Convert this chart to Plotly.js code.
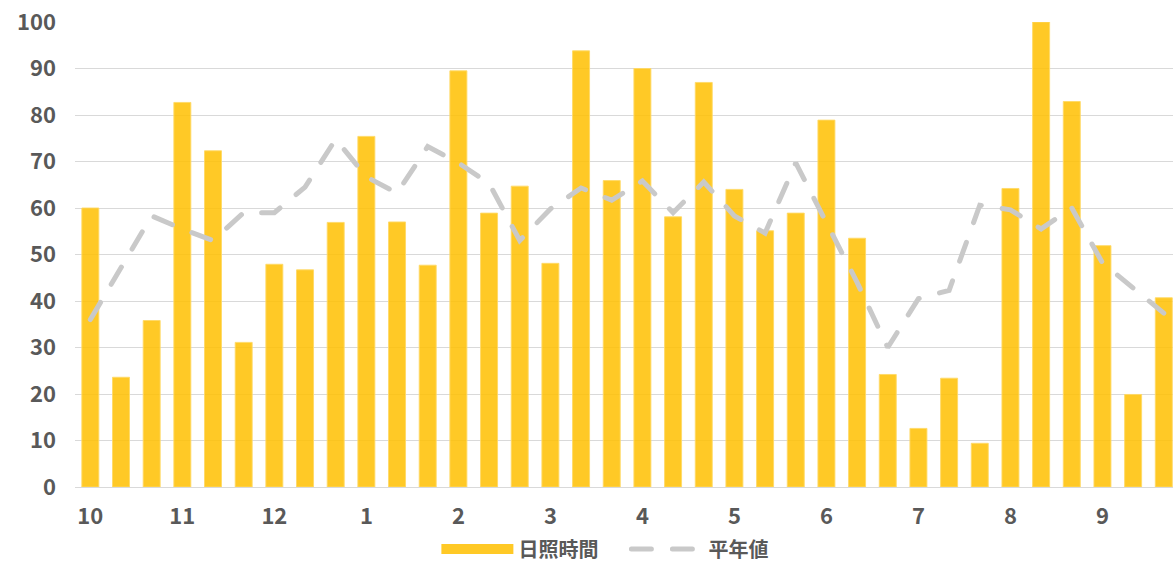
<!DOCTYPE html>
<html>
<head>
<meta charset="utf-8">
<script src="https://cdn.plot.ly/plotly-3.0.1.min.js"></script>
<style>
html, body { margin: 0; padding: 0; background: #fff; }
#chart { width: 1173px; height: 563px; }
.scatterlayer .js-line { stroke-linecap: round; }
.legend .traces:last-child .legendlines path { stroke-linecap: round; }
</style>
</head>
<body>
<div id="chart"></div>
<script>
// months (each split into three ten-day periods: 上旬, 中旬, 下旬)
const months = ['10','11','12','1','2','3','4','5','6','7','8','9'];
const periods = ['上旬','中旬','下旬'];

// 日照時間 (hours) per ten-day period
const sunshine = [
  60.0, 23.6, 35.8,
  82.7, 72.3, 31.1,
  47.9, 46.7, 56.9,
  75.4, 57.0, 47.7,
  89.5, 58.9, 64.7,
  48.1, 93.8, 65.9,
  90.0, 58.1, 87.0,
  64.0, 55.1, 58.9,
  78.9, 53.5, 24.2,
  12.6, 23.4, 9.4,
  64.2, 100.0, 82.9,
  51.9, 19.9, 40.7
];

// 平年値 (normal) per ten-day period
const normal = [
  36.0, 47.0, 58.3,
  55.5, 53.0, 59.0,
  59.0, 64.5, 74.8,
  66.7, 63.2, 73.2,
  69.7, 65.3, 53.0,
  59.8, 64.3, 61.7,
  65.8, 59.0, 65.6,
  58.3, 54.6, 69.7,
  57.0, 44.0, 30.0,
  40.5, 42.3, 60.6,
  59.6, 55.5, 60.0,
  48.2, 42.8, 37.4
];

const categories = [];
months.forEach(m => periods.forEach(p => categories.push(m + '月' + p)));
const tickVals = months.map(m => m + '月' + periods[0]);

const gold = 'rgba(255,192,0,0.85)';
const gray = 'rgb(201,201,201)';
const textColor = '#595959';
const font = '"Noto Sans CJK JP", "Noto Sans", sans-serif';

const traces = [
  {
    type: 'bar', x: categories, y: sunshine, name: '日照時間',
    marker: { color: gold, line: { color: 'rgba(255,217,102,0.9)', width: 1 } },
    showlegend: false, hoverinfo: 'x+y'
  },
  {
    type: 'scatter', mode: 'lines', x: categories, y: normal, name: '平年値',
    line: { color: gray, width: 5, dash: '20px,21px' },
    showlegend: false
  },
  // legend entries
  {
    type: 'scatter', mode: 'lines', x: [null], y: [null], name: '日照時間',
    line: { color: gold, width: 12 }, showlegend: true
  },
  {
    type: 'scatter', mode: 'lines', x: [null], y: [null], name: '平年値',
    line: { color: gray, width: 5, dash: '20px,21px' }, showlegend: true
  }
];

const layout = {
  width: 1173, height: 563,
  margin: { l: 75, r: 0, t: 22, b: 76 },
  paper_bgcolor: '#fff', plot_bgcolor: '#fff',
  font: { family: font, color: textColor },
  bargap: 0.446,
  xaxis: {
    type: 'category', categoryorder: 'array', categoryarray: categories,
    range: [-0.5, 35.3],
    tickmode: 'array', tickvals: tickVals, ticktext: months,
    showgrid: false, showline: false, ticks: '',
    ticklabelstandoff: 14,
    tickfont: { family: font, size: 22, color: textColor, weight: 'bold' }
  },
  yaxis: {
    range: [0, 100], dtick: 10, tick0: 0,
    showgrid: true, gridcolor: '#D9D9D9', gridwidth: 1,
    zeroline: true, zerolinecolor: '#D9D9D9', zerolinewidth: 1,
    showline: false, ticks: '',
    ticklabelstandoff: 18,
    tickfont: { family: font, size: 22, color: textColor, weight: 'bold' }
  },
  legend: {
    orientation: 'h',
    xref: 'container', yref: 'container',
    x: 0.534, xanchor: 'center', y: 0.025, yanchor: 'middle',
    itemwidth: 72, entrywidth: 103, entrywidthmode: 'pixels',
    tracegroupgap: 0,
    font: { family: font, size: 20, color: textColor, weight: 'bold' },
    bgcolor: 'rgba(0,0,0,0)'
  },
  showlegend: true
};

Plotly.newPlot('chart', traces, layout, { displayModeBar: false, staticPlot: true });
</script>
</body>
</html>
